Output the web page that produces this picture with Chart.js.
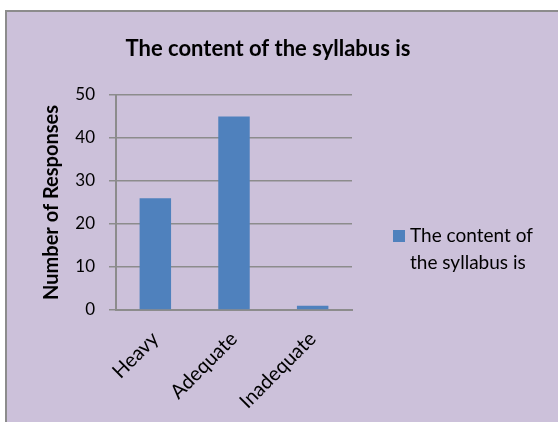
<!DOCTYPE html>
<html>
<head>
<meta charset="utf-8">
<script src="https://cdn.jsdelivr.net/npm/chart.js@4"></script>
<style>
    html, body { margin: 0; padding: 0; background: #fff; }
    #frame {
        position: absolute; left: 5px; top: 10px;
        width: 551px; height: 410px;
        border-left: 2px solid #8c8c8c; border-top: 2px solid #8c8c8c;
        background: #ccc1da;
    }
    canvas { display: block; }
</style>
</head>
<body>
<div id="frame"><canvas id="chart" width="551" height="410"></canvas></div>
<script>
const chartTitle  = 'The content of the syllabus is';
const categories  = ['Heavy', 'Adequate', 'Inadequate'];
const responses   = [26, 45, 1];
const yTicks      = [0, 10, 20, 30, 40, 50];
const legendLines = ['The content of', 'the syllabus is'];

const fontFamily = 'Lato, "Open Sans", sans-serif';
const barColor   = '#4f81bd';
const gridColor  = '#8c8c8c';

// title + legend drawn by hand: title is centred on the whole frame,
// and the legend label wraps on two lines like the original
const decorations = {
    id: 'decorations',
    afterDraw(chart) {
        const ctx = chart.ctx;
        ctx.save();
        ctx.fillStyle = '#000';
        ctx.textBaseline = 'middle';
        ctx.textAlign = 'center';
        ctx.font = 'bold 22px ' + fontFamily;
        ctx.fillText(chartTitle, 261, 37);

        ctx.fillStyle = barColor;
        ctx.fillRect(386, 218, 12, 12);
        ctx.fillStyle = '#000';
        ctx.font = '19px ' + fontFamily;
        ctx.textAlign = 'left';
        ctx.fillText(legendLines[0], 403, 224);
        ctx.fillText(legendLines[1], 403, 251);
        ctx.restore();
    }
};

new Chart(document.getElementById('chart').getContext('2d'), {
    type: 'bar',
    data: {
        labels: categories,
        datasets: [{
            label: chartTitle,
            data: responses,
            backgroundColor: barColor,
            borderWidth: 0,
            barPercentage: 0.4,
            categoryPercentage: 1
        }]
    },
    options: {
        responsive: false,
        animation: false,
        layout: { padding: { left: 0, right: 206, top: 83, bottom: 0 } },
        plugins: {
            legend: { display: false },
            tooltip: { enabled: false },
            title: { display: false }
        },
        scales: {
            x: {
                afterFit: s => { s.height = 112; },
                grid: { display: true, drawOnChartArea: false, drawTicks: false },
                border: { color: gridColor, width: 2 },
                ticks: {
                    color: '#000',
                    font: { family: fontFamily, size: 20 },
                    minRotation: 45, maxRotation: 45,
                    padding: 17
                }
            },
            y: {
                min: 0, max: 50,
                afterFit: s => { s.width = 109; },
                afterBuildTicks: s => { s.ticks = yTicks.map(v => ({ value: v })); },
                grid: { color: gridColor, lineWidth: 1.5, tickLength: 7 },
                border: { color: gridColor, width: 2 },
                ticks: {
                    color: '#000',
                    font: { family: fontFamily, size: 17 },
                    padding: 14
                },
                title: {
                    display: true,
                    text: 'Number of Responses',
                    color: '#000',
                    font: { family: fontFamily, size: 20, weight: 'bold' },
                    padding: { top: 33, bottom: 0 }
                }
            }
        }
    },
    plugins: [decorations]
});
</script>
</body>
</html>
